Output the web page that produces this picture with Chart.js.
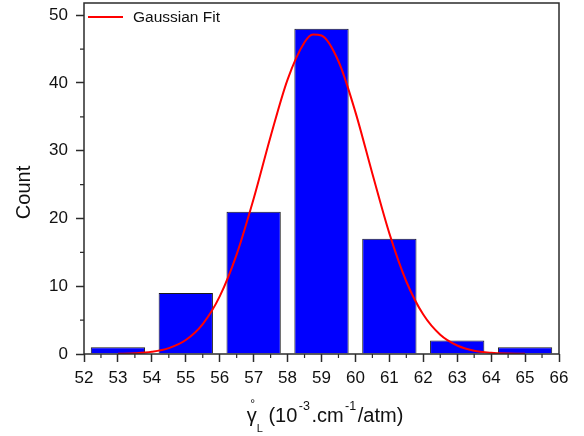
<!DOCTYPE html>
<html>
<head>
<meta charset="utf-8">
<script src="https://cdn.jsdelivr.net/npm/chart.js@4.4.1/dist/chart.umd.min.js"></script>
<style>
    html, body { margin: 0; padding: 0; background: #ffffff; }
    #wrap { width: 584px; height: 436px; }
</style>
</head>
<body>
<div id="wrap"><canvas id="histChart" width="584" height="436"></canvas></div>
<script>
// Histogram bins (bin centre, count)
const binCenters = [53, 55, 57, 59, 61, 63, 65];
const binCounts = [1, 9, 21, 48, 17, 2, 1];

// Gaussian fit curve, sampled points
const fitX = [53, 53.5, 54, 54.5, 55, 55.5, 56, 56.5, 57, 57.5, 58, 58.5, 58.75, 59,
    59.5, 60, 60.5, 61, 61.5, 62, 62.5, 63, 63.5, 64, 64.5, 65];
const fitY = [0.03, 0.11, 0.33, 0.87, 2.07, 4.42, 8.5, 14.7, 22.9, 32.1, 40.5, 46.0, 47.15, 47.0,
    43.2, 35.7, 26.6, 17.8, 10.7, 5.82, 2.84, 1.25, 0.49, 0.18, 0.06, 0.02];

// Axis ranges and ticks
const xMin = 52, xMax = 66, xStep = 1;
const yMin = 0, yMax = 51.8, yStep = 10;
const xMinorTicks = [52.5, 53.5, 54.5, 55.5, 56.5, 57.5, 58.5, 59.5, 60.5, 61.5, 62.5, 63.5, 64.5, 65.5];
const yMinorTicks = [5, 15, 25, 35, 45];

const yTitle = 'Count';
const fitLabel = 'Gaussian Fit';

const FONT = "'Liberation Sans', Arial, sans-serif";
const AXIS_COLOR = '#2b2b2b';
const TEXT_COLOR = '#111111';

// keep the plot box fixed: no extra room for the end tick labels
function noScalePadding(scale) {
    scale.paddingTop = 0;
    scale.paddingBottom = 0;
    scale.paddingLeft = 0;
    scale.paddingRight = 0;
}

// Frame, minor ticks, axis titles and the inline legend
const decorations = {
    id: 'decorations',
    afterDatasetsDraw(chart) {
        const ctx = chart.ctx;
        const area = chart.chartArea;
        const xs = chart.scales.x;
        const ys = chart.scales.y;

        ctx.save();
        ctx.strokeStyle = AXIS_COLOR;
        ctx.lineWidth = 1.5;
        ctx.strokeRect(area.left, area.top, area.right - area.left, area.bottom - area.top);

        ctx.lineWidth = 1.2;
        ctx.beginPath();
        xMinorTicks.forEach(v => {
            const px = xs.getPixelForValue(v);
            ctx.moveTo(px, area.bottom);
            ctx.lineTo(px, area.bottom + 4);
        });
        yMinorTicks.forEach(v => {
            const py = ys.getPixelForValue(v);
            ctx.moveTo(area.left, py);
            ctx.lineTo(area.left - 4, py);
        });
        ctx.stroke();
        ctx.restore();
    },
    afterDraw(chart) {
        const ctx = chart.ctx;
        const area = chart.chartArea;
        ctx.save();
        ctx.fillStyle = TEXT_COLOR;

        // y title
        ctx.save();
        ctx.translate(30, 192.5);
        ctx.rotate(-Math.PI / 2);
        ctx.font = '20px ' + FONT;
        ctx.textAlign = 'center';
        ctx.textBaseline = 'alphabetic';
        ctx.fillText(yTitle, 0, 0);
        ctx.restore();

        // x title with sub/superscripts
        const big = '20px ' + FONT;
        const small = '12.5px ' + FONT;
        const base = 421.5;
        const parts = [
            { t: '\u03B3', f: big, dy: 0 },
            { t: 'L', f: '11px ' + FONT, dy: 10 },
            { t: ' (10', f: big, dy: 0 },
            { t: '-3', f: small, dy: -11.5, gap: 1.5 },
            { t: '.cm', f: big, dy: 0 },
            { t: '-1', f: small, dy: -11.5, gap: 1.5 },
            { t: '/atm)', f: big, dy: 0 }
        ];
        let total = 0;
        parts.forEach(p => {
            ctx.font = p.f;
            p.w = ctx.measureText(p.t).width + 2 * (p.gap || 0);
            total += p.w;
        });
        let x = 325 - total / 2;
        ctx.textAlign = 'left';
        ctx.textBaseline = 'alphabetic';
        parts.forEach((p, i) => {
            ctx.font = p.f;
            ctx.fillText(p.t, x + (p.gap || 0), base + p.dy);
            if (i === 0) {
                // degree mark above the gamma
                ctx.font = '12px ' + FONT;
                ctx.fillText('\u00B0', x + p.w * 0.35, base - 14);
            }
            x += p.w;
        });

        // legend entry inside the plot
        const ly = area.top + 14;
        ctx.strokeStyle = '#ff0000';
        ctx.lineWidth = 2;
        ctx.beginPath();
        ctx.moveTo(88, ly);
        ctx.lineTo(123, ly);
        ctx.stroke();
        ctx.font = '15.5px ' + FONT;
        ctx.textBaseline = 'middle';
        ctx.fillText(fitLabel, 133, ly + 0.5);
        ctx.restore();
    }
};

const chart = new Chart(document.getElementById('histChart'), {
    type: 'bar',
    data: {
        datasets: [{
            type: 'line',
            label: fitLabel,
            data: fitX.map((v, i) => ({ x: v, y: fitY[i] })),
            borderColor: '#ff0000',
            borderWidth: 2,
            pointRadius: 0,
            fill: false,
            cubicInterpolationMode: 'monotone',
            order: 0
        }, {
            type: 'bar',
            label: 'Count',
            data: binCenters.map((v, i) => ({ x: v, y: binCounts[i] })),
            backgroundColor: '#0000ff',
            borderColor: '#1a1a1a',
            borderWidth: 1,
            borderSkipped: 'start',
            // bar width is 1.6 x-units (tick spacing is 1 unit)
            barPercentage: 1,
            categoryPercentage: 1.6,
            order: 1
        }]
    },
    options: {
        responsive: false,
        animation: false,
        devicePixelRatio: 1,
        layout: { padding: { left: 0, right: 25, top: 3, bottom: 0 } },
        plugins: {
            legend: { display: false },
            tooltip: { enabled: false }
        },
        scales: {
            x: {
                type: 'linear',
                min: xMin,
                max: xMax,
                offset: false,
                border: { display: false },
                grid: {
                    drawOnChartArea: false,
                    drawTicks: true,
                    tickLength: 8,
                    tickWidth: 1.5,
                    tickColor: AXIS_COLOR,
                    offset: false
                },
                ticks: {
                    stepSize: xStep,
                    padding: 6,
                    color: TEXT_COLOR,
                    font: { family: FONT, size: 17 },
                    maxRotation: 0,
                    autoSkip: false
                },
                afterFit(scale) {
                    scale.height = 82;
                    noScalePadding(scale);
                }
            },
            y: {
                min: yMin,
                max: yMax,
                border: { display: false },
                grid: {
                    drawOnChartArea: false,
                    drawTicks: true,
                    tickLength: 8,
                    tickWidth: 1.5,
                    tickColor: AXIS_COLOR
                },
                ticks: {
                    stepSize: yStep,
                    includeBounds: false,
                    padding: 8,
                    color: TEXT_COLOR,
                    font: { family: FONT, size: 17 }
                },
                afterFit(scale) {
                    scale.width = 84;
                    noScalePadding(scale);
                }
            }
        }
    },
    plugins: [decorations]
});
</script>
</body>
</html>
